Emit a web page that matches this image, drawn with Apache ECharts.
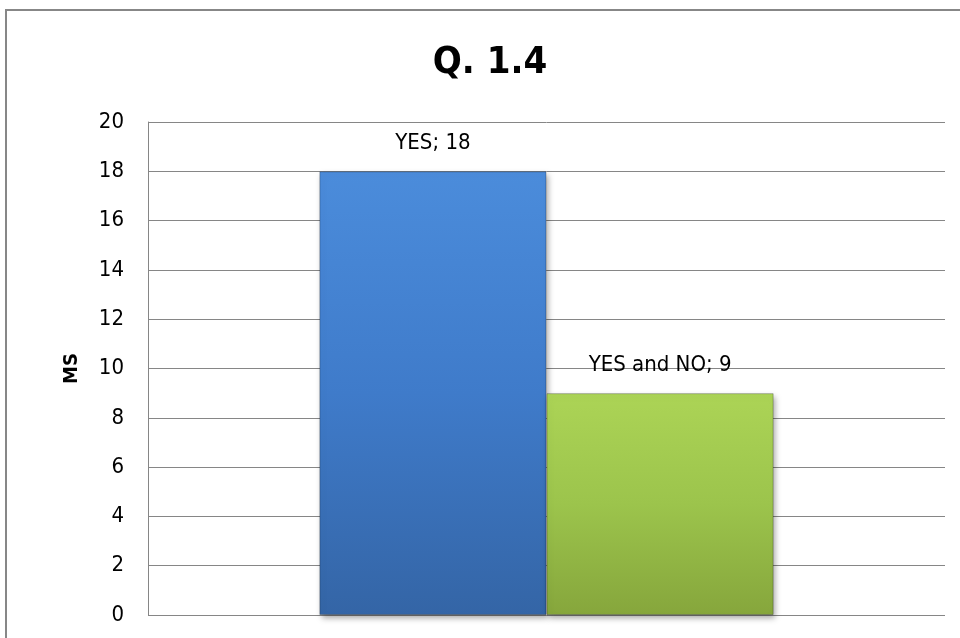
<!DOCTYPE html>
<html><head><meta charset="utf-8">
<script src="https://cdn.jsdelivr.net/npm/echarts@6/dist/echarts.min.js"></script>
<style>html,body{margin:0;padding:0;background:#fff}#c{width:960px;height:638px}</style>
</head><body><div id="c"></div>
<script>
const categories = [''];
const seriesNames = ['YES', 'YES and NO'];
const values = [18, 9];
const yTicks = [0, 20, 2];

const colors = [
  ['#4b8cdb', '#3f7bca', '#3465a6'],
  ['#acd456', '#9cc44c', '#86a63c']
];
const chart = echarts.init(document.getElementById('c'));
const font = '"DejaVu Sans Condensed", "Liberation Sans Narrow", sans-serif';
chart.setOption({
  animation: false,
  graphic: [{
    type: 'rect', shape: { x: 6, y: 10, width: 1000, height: 700 },
    style: { fill: 'none', stroke: '#878787', lineWidth: 2 }, silent: true
  }, {
    type: 'text', x: 490, y: 63,
    style: { text: 'Q. 1.4', fontFamily: font, fontWeight: 'bold', fontSize: 38, fill: '#000',
      textAlign: 'center', textVerticalAlign: 'middle' }
  }],
  grid: { left: 148, right: 15, top: 122, bottom: 23 },
  xAxis: {
    type: 'category', data: categories,
    axisLine: { show: false }, axisTick: { show: false }, axisLabel: { show: false }
  },
  yAxis: {
    type: 'value', min: yTicks[0], max: yTicks[1], interval: yTicks[2],
    name: 'MS', nameLocation: 'middle', nameGap: 66, nameRotate: 90,
    nameTextStyle: { fontFamily: font, fontWeight: 'bold', fontSize: 20, color: '#000' },
    axisLine: { show: true, lineStyle: { color: '#868686', width: 1 } },
    axisTick: { show: false },
    axisLabel: { fontFamily: font, fontSize: 22, color: '#000', margin: 24 },
    splitLine: { lineStyle: { color: '#868686', width: 1 } }
  },
  series: seriesNames.map((n, i) => ({
    type: 'bar', name: n, data: [values[i]],
    barGap: '0%', barCategoryGap: '43%',
    itemStyle: {
      color: new echarts.graphic.LinearGradient(0, 0, 0, 1, [
        { offset: 0, color: colors[i][0] },
        { offset: 0.5, color: colors[i][1] },
        { offset: 1, color: colors[i][2] }
      ]),
      borderColor: 'rgba(0,0,0,0.25)', borderWidth: 1,
      shadowColor: 'rgba(0,0,0,0.35)', shadowBlur: 6, shadowOffsetX: 2, shadowOffsetY: 3
    },
    label: {
      show: true, position: 'top', distance: 17,
      formatter: p => p.seriesName + '; ' + p.value,
      fontFamily: font, fontSize: 22, color: '#000'
    }
  }))
});
</script></body></html>
